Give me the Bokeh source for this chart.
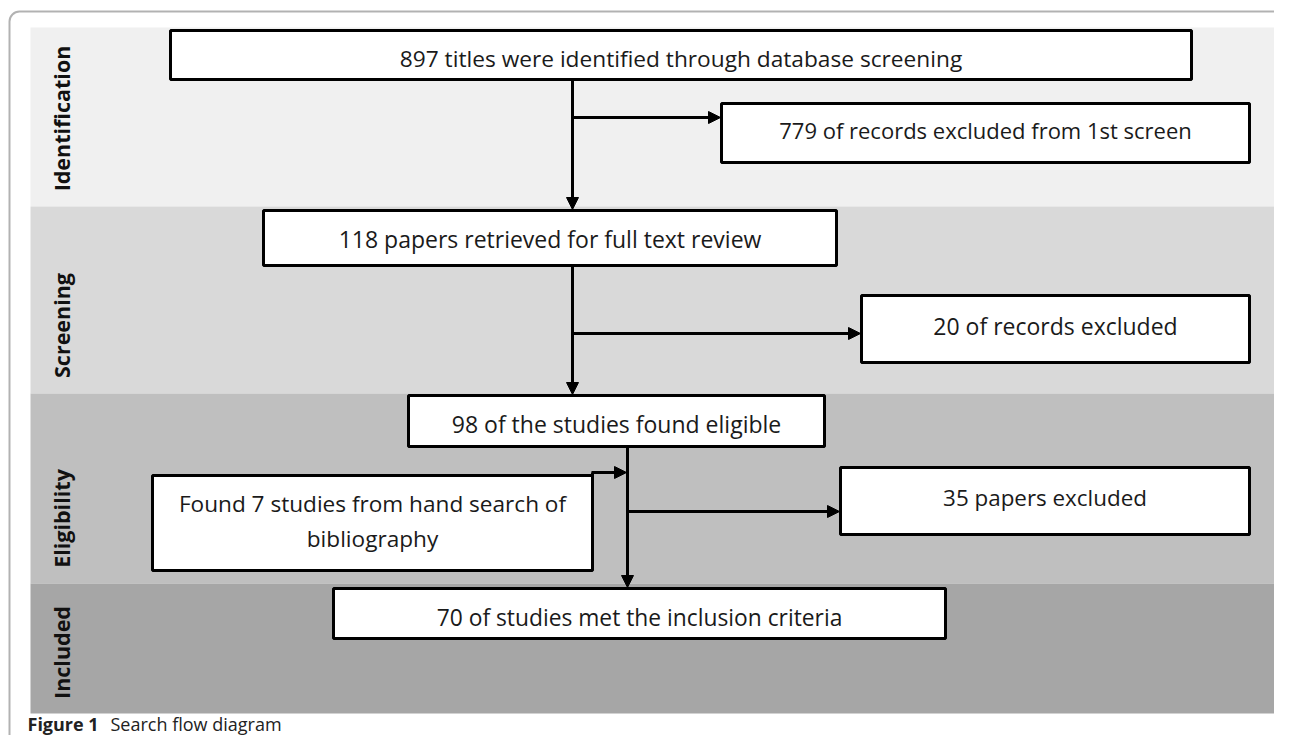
from bokeh.plotting import figure
from bokeh.models import Range1d, Arrow, NormalHead, BoxAnnotation
from bokeh.core.properties import value
from bokeh.embed import file_html
from bokeh.resources import INLINE
import math

# ---- data ----
stages = ["Identification", "Screening", "Eligibility", "Included"]
stage_colors = ["#f0f0f0", "#d9d9d9", "#bfbfbf", "#a6a6a6"]
box_texts = [
    "897 titles were identified through database screening",
    "779 of records excluded from 1st screen",
    "118 papers retrieved for full text review",
    "20 of records excluded",
    "98 of the studies found eligible",
    "Found 7 studies from hand search of\nbibliography",
    "35 papers excluded",
    "70 of studies met the inclusion criteria",
]
caption_bold = "Figure 1"
caption_text = "Search flow diagram"

# ---- layout (reference pixel space) ----
band_y = [(27, 206), (206, 393), (393, 583), (583, 713)]
band_x = (30, 1274)
stage_label_y = [118, 325, 518, 652]
stage_label_x = 61

boxes = [  # left, right, top, bottom, text_y
    (170, 1191, 30, 79, 58),
    (721, 1249, 103, 162, 129),
    (263, 836, 210, 265, 238),
    (861, 1249, 295, 362, 325),
    (408, 824, 395, 446, 423),
    (152, 592, 475, 570, None),
    (840, 1249, 467, 534, 497),
    (333, 945, 588, 638, 617),
]
wrapped_y = [503, 538]
font_sizes = ["22.7px", "22px", "23px", "23px", "23px", "22.6px", "22.4px", "22.8px"]

p = figure(width=1274, height=735, output_backend="svg", toolbar_location=None,
           x_range=Range1d(0, 1274), y_range=Range1d(735, 0),
           min_border=0, outline_line_color=None)
p.axis.visible = False
p.grid.visible = False
p.background_fill_color = "white"
p.border_fill_color = "white"

# bands
p.quad(left=[band_x[0]] * 4, right=[band_x[1]] * 4,
       top=[b[0] for b in band_y], bottom=[b[1] for b in band_y],
       fill_color=stage_colors, line_color=None)

# outer rounded frame
p.add_layout(BoxAnnotation(left=9, right=1287, top=11, bottom=900, fill_alpha=0,
                           line_color="black", line_width=2, border_radius=10))

# stage labels (rotated)
p.text(x=[stage_label_x] * 4, y=stage_label_y, text=stages, angle=math.pi / 2,
       text_align="center", text_baseline="middle", text_font=value("Open Sans"),
       text_font_style="bold", text_font_size="21.5px", text_color="#111111")

# boxes
p.quad(left=[b[0] for b in boxes], right=[b[1] for b in boxes],
       top=[b[2] for b in boxes], bottom=[b[3] for b in boxes],
       fill_color="white", line_color="black", line_width=3)

# box texts
for i, b in enumerate(boxes):
    t = box_texts[i]
    cx = (b[0] + b[1]) / 2
    if "\n" in t:
        lines = t.split("\n")
        p.text(x=[cx] * len(lines), y=wrapped_y, text=lines,
               text_align="center", text_baseline="middle",
               text_font=value("Open Sans"), text_font_size=font_sizes[i],
               text_color="#1a1a1a")
    else:
        p.text(x=[cx], y=[b[4]], text=[t], text_align="center", text_baseline="middle",
               text_font=value("Open Sans"), text_font_size=font_sizes[i],
               text_color="#1a1a1a")

# plain connector lines
p.segment(x0=[592], y0=[476], x1=[592], y1=[472], line_color="black", line_width=3)

# arrows
arrows = [
    (572, 79, 572, 209),
    (572, 117, 720, 117),
    (572, 265, 572, 394),
    (572, 333, 860, 333),
    (627, 446, 627, 587),
    (591, 472, 626, 472),
    (627, 511, 839, 511),
]
for (x0, y0, x1, y1) in arrows:
    p.add_layout(Arrow(end=NormalHead(size=12, fill_color="black", line_color="black", line_width=1),
                       x_start=x0, y_start=y0, x_end=x1, y_end=y1,
                       line_color="black", line_width=3))

# caption
p.text(x=[27], y=[723], text=[caption_bold], text_align="left", text_baseline="middle",
       text_font=value("Open Sans"), text_font_style="bold", text_font_size="18px",
       text_color="#222222")
p.text(x=[110], y=[723], text=[caption_text], text_align="left", text_baseline="middle",
       text_font=value("Open Sans"), text_font_size="18px", text_color="#222222")

open("out.html", "w").write(file_html(p, INLINE))
